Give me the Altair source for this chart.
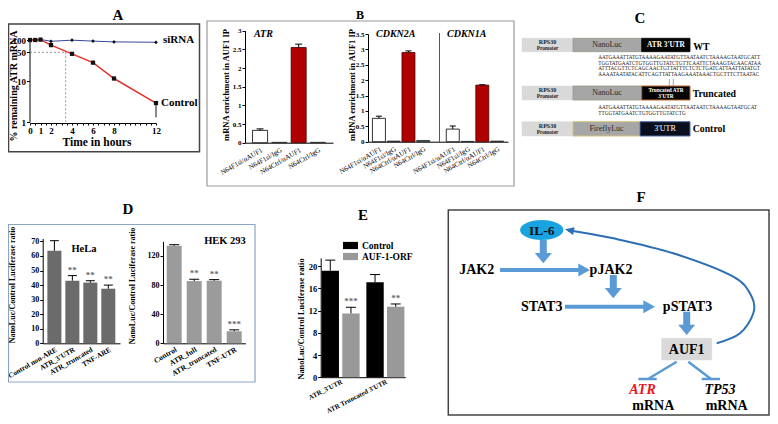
import altair as alt
import pandas as pd

W, H = 762, 408          # drawing area; the page adds an 8px margin
M = 8
SERIF = "Liberation Serif"


def p(v):
    """position in the reference picture -> position in the chart"""
    return v - M


# ------------------------------------------------------------------ data
# Panel A : mRNA decay (log scale)
A_time = [0, 0.5, 1, 2, 4, 6, 8, 12]
A_control = [100, 100, 102, 75, 46, 28, 11.5, 2.9]
A_sirna = [100, 100, 103, 93, 99, 94, 90, 88]
A_err_time = [12]
A_err_low = [1.3]
A_err_top = [2.9]
A_xlabels = [0, 1, 2, 4, 6, 8, 12]
A_xminor = [i / 2 for i in range(25)]
A_yticks = [1, 10, 50, 100]
A_half_level = 50
A_half_time = 3.4

# Panel B : RIP enrichment
B_samples = ["N64F1si/αAUF1", "N64F1si/IgG", "N64Ctrl/αAUF1", "N64Ctrl/IgG"]
B_atr = [0.33, 0.01, 2.55, 0.01]
B_atr_err = [0.04, 0, 0.09, 0]
B_cdkn2a = [0.76, 0.02, 2.90, 0.04]
B_cdkn2a_err = [0.07, 0, 0.05, 0]
B_cdkn1a = [0.41, 0.01, 1.84, 0.02]
B_cdkn1a_err = [0.10, 0, 0.01, 0]
B_atr_ticks = [0, 0.5, 1, 1.5, 2, 2.5, 3]
B_cdkn_ticks = [0, 0.5, 1, 1.5, 2, 2.5, 3, 3.5]

# Panel D : reporter assays
D_hela_cats = ["Control non-ARE", "ATR_3'UTR", "ATR_truncated", "TNF-ARE"]
D_hela = [63.5, 43.0, 41.7, 37.5]
D_hela_err = [7.0, 3.5, 1.3, 2.5]
D_hela_sig = ["", "**", "**", "**"]
D_hela_ticks = [0, 10, 20, 30, 40, 50, 60, 70]
D_hek_cats = ["Control", "ATR_full", "ATR_truncated", "TNF-UTR"]
D_hek = [134, 85.5, 86, 16.5]
D_hek_err = [1.5, 2.5, 1.5, 2.0]
D_hek_sig = ["", "**", "**", "***"]
D_hek_ticks = [0, 40, 80, 120]

# Panel E
E_groups = ["ATR_3'UTR", "ATR Truncated 3'UTR"]
E_series = ["Control", "AUF-1-ORF"]
E_control = [19.2, 17.1]
E_control_err = [1.9, 1.4]
E_auf = [11.5, 12.7]
E_auf_err = [1.1, 0.5]
E_auf_sig = ["***", "**"]
E_ticks = [0, 4, 8, 12, 16, 20]

# Panel C : constructs
C_wt_seq = [
    "AATGAAATTATGTAAAAGAATATGTTAATAATCTAAAAGTAATGCATT",
    "TGGTATGAATCTGTGGTTGTATCTGTTCAATTCTAAAGTACAACATAA",
    "ATTTACGTTCTCAGCAACTGTTATTTCTCTCTGATCATTAATTATATGT",
    "AAAATAATATACATTCAGTTATTAAGAAATAAACTGCTTTCTTAATAC",
]
C_tr_seq = [
    "AATGAAATTATGTAAAAGAATATGTTAATAATCTAAAAGTAATGCAT",
    "TTGGTATGAATCTGTGGTTGTATCTG",
]

# ------------------------------------------------------------------ styles
B_fill = ["#ffffff", "#2a2a2a", "#b00000", "#2a2a2a"]
B_fill_2a = ["#ffffff", "#2a2a2a", "#b00000", "#2e7d5b"]
B_stroke = ["#000000", "#2a2a2a", "#4a0000", "#2a2a2a"]
ARROW = "#5b9bd5"


# ------------------------------------------------------------------ helpers
def shift(df):
    df = df.copy()
    for c in ("x", "x2"):
        if c in df:
            df[c] = df[c] - M
    for c in ("y", "y2"):
        if c in df:
            df[c] = df[c] - M
    return df


def PX(f):
    return alt.X(f"{f}:Q", scale=None, axis=None)


def PY(f):
    return alt.Y(f"{f}:Q", scale=None, axis=None)


def text_layer(rows, size, weight="normal", style="normal", color="black",
               align="center", angle=0, font=SERIF):
    df = shift(pd.DataFrame(rows, columns=["text", "x", "y"]))
    return alt.Chart(df).mark_text(
        font=font, fontSize=size, fontWeight=weight, fontStyle=style,
        color=color, align=align, angle=angle, baseline="middle"
    ).encode(x=PX("x"), y=PY("y"), text="text:N")


def rect_layer(rows):
    df = shift(pd.DataFrame(rows, columns=["x", "y", "x2", "y2", "fill", "stroke", "sw"]))
    return alt.Chart(df).mark_rect().encode(
        x=PX("x"), x2="x2", y=PY("y"), y2="y2",
        fill=alt.Fill("fill:N", scale=None),
        stroke=alt.Stroke("stroke:N", scale=None),
        strokeWidth=alt.StrokeWidth("sw:Q", scale=None))


def rule_layer(rows, dash=None):
    df = shift(pd.DataFrame(rows, columns=["x", "y", "x2", "y2", "color", "sw"]))
    kw = {"strokeDash": dash} if dash else {}
    return alt.Chart(df).mark_rule(strokeCap="butt", **kw).encode(
        x=PX("x"), x2="x2", y=PY("y"), y2="y2",
        color=alt.Color("color:N", scale=None),
        strokeWidth=alt.StrokeWidth("sw:Q", scale=None))


def symbol_layer(rows):
    df = shift(pd.DataFrame(rows, columns=["x", "y", "shape", "size", "color", "angle"]))
    return alt.Chart(df).mark_point(filled=True, opacity=1, strokeWidth=0).encode(
        x=PX("x"), y=PY("y"),
        shape=alt.Shape("shape:N", scale=None),
        size=alt.Size("size:Q", scale=None),
        color=alt.Color("color:N", scale=None),
        angle=alt.Angle("angle:Q", scale=None))


def bar_chart(df, x, ys, ya, cap, bar_kw, offset=None, color=None,
              star_size=9, star_color="#6a6a6a"):
    def Y(f):
        return alt.Y(f"{f}:Q", scale=ys, axis=ya)
    base = {"x": x}
    if offset is not None:
        base["xOffset"] = offset
    enc = dict(base, y=Y("v"))
    if color is None:
        enc["color"] = alt.Color("fill:N", scale=None)
        enc["stroke"] = alt.Stroke("stroke:N", scale=None)
    else:
        enc["color"] = color
    layers = [alt.Chart(df).mark_bar(**bar_kw).encode(**enc)]
    e = df[df["err"] > 0].copy()
    e["hi"] = e["v"] + e["err"]
    layers.append(alt.Chart(e).mark_rule(color="black", strokeWidth=1)
                  .encode(**base, y=Y("v"), y2="hi"))
    layers.append(alt.Chart(e).mark_tick(color="black", thickness=1, size=cap, opacity=1)
                  .encode(**base, y=Y("hi")))
    if "sig" in e:
        s = e[e["sig"] != ""]
        layers.append(alt.Chart(s).mark_text(
            font=SERIF, fontSize=star_size, fontWeight="bold", color=star_color,
            baseline="bottom", dy=-1).encode(**base, y=Y("hi"), text="sig:N"))
    return alt.layer(*layers)


def x_axis(y_ref, **kw):
    d = dict(orient="bottom", offset=-(H - p(y_ref)), title=None, labelOverlap=False)
    d.update(kw)
    return alt.Axis(**d)


def y_axis(x_ref, **kw):
    d = dict(orient="left", offset=-p(x_ref), title=None, labelOverlap=False,
             tickSize=3, labelPadding=1, format=".6~g")
    d.update(kw)
    return alt.Axis(**d)


# ------------------------------------------------------------------ panel A
A_xs = alt.Scale(domain=[0, 12], range=[p(30), p(156)], nice=False, zero=False)
A_ys = alt.Scale(type="log", domain=[1, 100], range=[p(122), p(40)], nice=False)
A_label_expr = ("indexof([" + ",".join(str(v) for v in A_xlabels) +
                "], datum.value) >= 0 ? datum.value : ''")
AX = alt.X("t:Q", scale=A_xs,
           axis=x_axis(123, values=A_xminor, labelExpr=A_label_expr, labelFontSize=9,
                       labelPadding=1, tickSize=2, labelFlush=False))
AY = alt.Y("v:Q", scale=A_ys, axis=y_axis(29.5, values=A_yticks, labelFontSize=9))

a_ctrl = pd.DataFrame({"t": A_time, "v": A_control})
a_sir = pd.DataFrame({"t": A_time, "v": A_sirna})
a_guide = pd.DataFrame({"t": [0, A_half_time], "t2": [A_half_time, A_half_time],
                        "v": [A_half_level, A_half_level], "v2": [A_half_level, 1]})
a_err = pd.DataFrame({"t": A_err_time, "v": A_err_low, "v2": A_err_top})

panelA = alt.layer(
    alt.Chart(a_guide).mark_rule(color="#777", strokeWidth=0.8, strokeDash=[2, 2])
    .encode(x=AX, x2="t2", y=AY, y2="v2"),
    alt.Chart(a_sir).mark_line(color="#3a4aa0", strokeWidth=1).encode(x=AX, y=AY),
    alt.Chart(a_sir).mark_point(shape="diamond", filled=True, size=14, color="#111", opacity=1)
    .encode(x=AX, y=AY),
    alt.Chart(a_ctrl).mark_line(color="#e2322b", strokeWidth=1.5).encode(x=AX, y=AY),
    alt.Chart(a_err).mark_rule(color="#111", strokeWidth=1).encode(x=AX, y=AY, y2="v2"),
    alt.Chart(a_ctrl).mark_point(shape="square", filled=True, size=18, color="#111", opacity=1)
    .encode(x=AX, y=AY),
)

# ------------------------------------------------------------------ panel B
B_xkw = dict(labelAngle=-30, labelFontSize=7, labelFontWeight="normal", ticks=False,
             labelPadding=3)
b_atr = pd.DataFrame({"cat": B_samples, "v": B_atr, "err": B_atr_err,
                      "fill": B_fill, "stroke": B_stroke})
atr_x = alt.X("cat:N",
              scale=alt.Scale(domain=B_samples, range=[p(245), p(333)],
                              paddingInner=0.22, paddingOuter=0.39),
              axis=x_axis(142.7, **B_xkw))
atr_ys = alt.Scale(domain=[0, 3], range=[p(142.7), p(30.7)], nice=False)
atr_ya = y_axis(245, values=B_atr_ticks, labelFontSize=7)
panelB1 = bar_chart(b_atr, atr_x, atr_ys, atr_ya, cap=7, bar_kw=dict(strokeWidth=0.8))

cdkn_keys = ([f"{i}|{s}" for i, s in enumerate(B_samples)] + ["4|"] +
             [f"{i + 5}|{s}" for i, s in enumerate(B_samples)])
b_cdkn = pd.DataFrame({
    "cat": cdkn_keys[:4] + cdkn_keys[5:],
    "v": B_cdkn2a + B_cdkn1a,
    "err": B_cdkn2a_err + B_cdkn1a_err,
    "fill": B_fill_2a + B_fill,
    "stroke": B_stroke + B_stroke,
})
cdkn_x = alt.X("cat:N",
               scale=alt.Scale(domain=cdkn_keys, range=[p(368), p(508)],
                               paddingInner=0.12, paddingOuter=0.3),
               axis=x_axis(141.7, labelExpr="split(datum.value, '|')[1]", **B_xkw))
cdkn_ys = alt.Scale(domain=[0, 3.5], range=[p(141.7), p(34)], nice=False)
cdkn_ya = y_axis(368, values=B_cdkn_ticks, labelFontSize=7)
panelB2 = bar_chart(b_cdkn, cdkn_x, cdkn_ys, cdkn_ya, cap=6, bar_kw=dict(strokeWidth=0.8))

# ------------------------------------------------------------------ panel D
d_hela = pd.DataFrame({"cat": D_hela_cats, "v": D_hela, "err": D_hela_err, "sig": D_hela_sig})
hela_x = alt.X("cat:N",
               scale=alt.Scale(domain=D_hela_cats, range=[p(42.7), p(120)],
                               paddingInner=0.22, paddingOuter=0.26),
               axis=x_axis(343.3, labelAngle=-30, labelFontSize=7.2, ticks=False,
                           labelPadding=2))
hela_ys = alt.Scale(domain=[0, 72], range=[p(343.3), p(238.5)], nice=False)
hela_ya = y_axis(42.7, values=D_hela_ticks, labelFontSize=8)
panelD1 = bar_chart(d_hela, hela_x, hela_ys, hela_ya, cap=9, bar_kw={},
                    color=alt.value("#6b6b6b"))

d_hek = pd.DataFrame({"cat": D_hek_cats, "v": D_hek, "err": D_hek_err, "sig": D_hek_sig})
hek_x = alt.X("cat:N",
              scale=alt.Scale(domain=D_hek_cats, range=[p(163), p(245.4)],
                              paddingInner=0.25, paddingOuter=0.185),
              axis=x_axis(343.3, labelAngle=-30, labelFontSize=7.5, ticks=False,
                          labelPadding=2))
hek_ys = alt.Scale(domain=[0, 140], range=[p(343.3), p(241.4)], nice=False)
hek_ya = y_axis(163, values=D_hek_ticks, labelFontSize=8)
panelD2 = bar_chart(d_hek, hek_x, hek_ys, hek_ya, cap=10, bar_kw={},
                    color=alt.value("#9b9b9b"))

# ------------------------------------------------------------------ panel E
e_df = pd.DataFrame({
    "grp": E_groups * 2,
    "series": [E_series[0]] * 2 + [E_series[1]] * 2,
    "v": E_control + E_auf,
    "err": E_control_err + E_auf_err,
    "sig": ["", ""] + E_auf_sig,
})
e_x = alt.X("grp:N",
            scale=alt.Scale(domain=E_groups, range=[p(320.7), p(405.3)],
                            paddingInner=0.15, paddingOuter=0.02),
            axis=x_axis(377.2, labelAngle=-27, labelFontSize=6.8, ticks=False,
                        labelPadding=1))
e_off = alt.XOffset("series:N", scale=alt.Scale(domain=E_series, paddingInner=0.16,
                                                paddingOuter=0))
e_ys = alt.Scale(domain=[0, 21.5], range=[p(377.2), p(257.9)], nice=False)
e_ya = y_axis(320.7, values=E_ticks, labelFontSize=8.5)
e_color = alt.Color(
    "series:N", scale=alt.Scale(domain=E_series, range=["#000000", "#999999"]),
    legend=alt.Legend(orient="none", legendX=p(344.5), legendY=p(239.5), title=None,
                      symbolType="M-1.25,-0.6H1.25V0.6H-1.25Z", symbolSize=144,
                      symbolStrokeWidth=0, labelFont=SERIF, labelFontWeight="bold",
                      labelFontSize=9.5, labelOffset=5.5, rowPadding=0, padding=0))
panelE = bar_chart(e_df, e_x, e_ys, e_ya, cap=10, bar_kw={}, offset=e_off, color=e_color)

# ------------------------------------------------------------------ frames & diagrams
F_BOTTOM = min(421.7, H + M - 1)
frames = rect_layer([
    (max(2, M + 0.5), 24, 199.5, 151.7, "transparent", "#444444", 1.5),  # A
    (207, 21, 514, 186, "transparent", "#9a9a9a", 1.2),                  # B
    (max(3, M + 0.5), 224.5, 255, 382, "transparent", "#8aa6c6", 1.2),   # D
    (448.3, 210, min(771.7, W + M - 1), F_BOTTOM, "transparent", "#444444", 1.5),  # F
])

c_boxes = rect_layer([
    (522, 38.3, 573, 51.7, "#d9d9d9", "#d9d9d9", 0.5),
    (573, 38.3, 641.7, 51.7, "#a6a6a6", "#8e9c86", 0.8),
    (641.7, 38.3, 690, 51.7, "#050505", "#050505", 0.8),
    (522, 86, 573, 100, "#d9d9d9", "#d9d9d9", 0.5),
    (573, 86, 641.7, 100, "#a6a6a6", "#8e9c86", 0.8),
    (641.7, 86, 690, 100, "#050505", "#c0652c", 1),
    (522, 121.7, 573, 136, "#d9d9d9", "#d9d9d9", 0.5),
    (573, 121.7, 640, 136, "#a6a6a6", "#d9c27a", 1),
    (640, 121.7, 690, 136, "#0b0f1c", "#4a6fa5", 1),
    (661.7, 338.3, 711.7, 360, "#d9d9d9", "#d9d9d9", 0.5),               # AUF1 box
])

INH_Y = 379
lines = rule_layer([
    (439.5, 33, 439.5, 142, "#555555", 1),          # B separator
    (669.3, 79, 669.3, 86, "#8fa8cc", 1),            # C marks
    (673.3, 79, 673.3, 86, "#8fa8cc", 1),
    (543.3, 240, 543.3, 256, ARROW, 7),              # F shafts
    (500, 270, 584.5, 270, ARROW, 4),
    (613.3, 275, 613.3, 291, ARROW, 7),
    (565, 306.7, 649.5, 306.7, ARROW, 4),
    (686.7, 311.7, 686.7, 328, ARROW, 7),
    (676.7, 361.7, 648, INH_Y, ARROW, 2.5),          # F inhibitions
    (638.3, INH_Y, 656.7, INH_Y, ARROW, 2.5),
    (688.3, 361.7, 711, INH_Y, ARROW, 2.5),
    (701.7, INH_Y, 720, INH_Y, ARROW, 2.5),
])

DOWN = "M-1,-0.6L1,-0.6L0,0.6Z"
RIGHT = "M-0.9,-1L0.9,0L-0.9,1Z"
LEFT = "M0.9,-0.8L-0.9,0L0.9,0.8Z"
ELLIPSE = "M-1,0A1,0.46,0,1,1,1,0A1,0.46,0,1,1,-1,0Z"
symbols = symbol_layer([
    (541.7, 230, ELLIPSE, 43.3 ** 2, "#19a3e0", 0),
    (543.3, 263.3 - 5.1, DOWN, 289, ARROW, 0),
    (613.3, 298.3 - 5.1, DOWN, 289, ARROW, 0),
    (686.7, 335 - 5.1, DOWN, 289, ARROW, 0),
    (590 - 5.85, 270, RIGHT, 169, ARROW, 0),
    (655 - 5.85, 306.7, RIGHT, 169, ARROW, 0),
    (565 + 4.4, 229.3 + 0.9, LEFT, 100, "#2e6fb4", 11),
])

curve_pts = [(716.7, 343.3), (740, 333.3), (753.3, 313.3), (751.7, 296.7),
             (733.3, 276.7), (673.3, 253.3), (613.3, 238.3), (568, 230.2)]
curve_df = shift(pd.DataFrame(curve_pts, columns=["x", "y"]))
curve_df["i"] = range(len(curve_df))
curve = alt.Chart(curve_df).mark_line(interpolate="cardinal", color="#2e6fb4",
                                      strokeWidth=2).encode(x=PX("x"), y=PY("y"), order="i:Q")

# ------------------------------------------------------------------ texts
texts = [
    text_layer([("A", 118, 15), ("C", 640, 18), ("D", 128, 209),
                ("E", 363, 215), ("F", 641, 197)], 15, weight="bold"),
    text_layer([("B", 360, 15)], 12, weight="bold"),
    text_layer([("siRNA", 163, 40), ("Control", 161, 103)], 11, weight="bold", align="left"),
    text_layer([("Time in hours", 97, 143)], 11.5, weight="bold"),
    text_layer([("% remaining ATR mRNA", 14, 86)], 10, weight="bold", angle=270),
    text_layer([("mRNA enrichment in AUF1 IP", 226, 85),
                ("mRNA enrichment in AUF1 IP", 352, 85)], 8.5, weight="bold", angle=270),
    text_layer([("ATR", 254, 34), ("CDKN2A", 376, 34), ("CDKN1A", 447, 34)], 10,
               weight="bold", style="italic", align="left"),
    text_layer([("HeLa", 84, 249), ("HEK 293", 225, 241)], 10.5, weight="bold"),
    text_layer([("NanoLuc/Control Luciferase ratio", 12.5, 285),
                ("NanoLuc/Control Luciferase ratio", 133.3, 286)], 8, weight="bold", angle=270),
    text_layer([("NanoLuc/Control Luciferase ratio", 301.7, 319)], 8.3, weight="bold",
               angle=270),
    # panel C
    text_layer([("RPS30", 547.5, 42.3), ("RPS30", 547.5, 90), ("RPS30", 547.5, 125.7)], 6,
               weight="bold", color="#222"),
    text_layer([("Promoter", 547.5, 48), ("Promoter", 547.5, 95.8), ("Promoter", 547.5, 131.6)],
               5.3, weight="bold", color="#222"),
    text_layer([("NanoLuc", 607, 45), ("NanoLuc", 607, 93), ("FireflyLuc", 606.5, 129)], 8,
               color="#2a2a2a"),
    text_layer([("ATR 3'UTR", 666, 45)], 7.3, weight="bold", color="white"),
    text_layer([("Truncated ATR", 666, 90.3), ("3'UTR", 666, 96.3)], 5.3, weight="bold",
               color="white"),
    text_layer([("3'UTR", 665, 129)], 8, color="white"),
    text_layer([("WT", 693.3, 46.5), ("Truncated", 692.7, 93.5), ("Control", 692.7, 128.5)],
               9.8, weight="bold", align="left"),
    text_layer([(s, 598.3, y) for s, y in zip(C_wt_seq, (56.7, 62.6, 68.4, 74.2))] +
               [(s, 598.3, y) for s, y in zip(C_tr_seq, (107.3, 113.2))],
               5.2, align="left", color="#222"),
    # panel F
    text_layer([("IL-6", 541.7, 230.5)], 13.5, weight="bold", color="#111"),
    text_layer([("JAK2", 476.7, 270), ("pJAK2", 611, 270), ("STAT3", 541.7, 306.7),
                ("pSTAT3", 687.5, 306.7), ("AUF1", 686.7, 350),
                ("mRNA", 653.3, 405.5), ("mRNA", 726.7, 405.5)], 14, weight="bold"),
    text_layer([("ATR", 642.5, 390)], 14, weight="bold", style="italic", color="#e8141b"),
    text_layer([("TP53", 720, 390)], 14, weight="bold", style="italic"),
]

# ------------------------------------------------------------------ assemble
chart = alt.layer(
    frames, c_boxes,
    panelA, panelB1, panelB2, panelD1, panelD2, panelE,
    lines, curve, symbols, *texts,
).resolve_scale(
    x="independent", y="independent", color="independent"
).properties(
    width=W, height=H, padding=0, autosize=alt.AutoSizeParams(type="none"),
).configure_view(
    strokeWidth=0
).configure_axis(
    labelFont=SERIF, labelFontWeight="bold", labelColor="black",
    domainColor="black", tickColor="black", grid=False, domainWidth=1, tickWidth=1,
)

chart.save("out.html", embed_options={"renderer": "svg", "actions": False})
